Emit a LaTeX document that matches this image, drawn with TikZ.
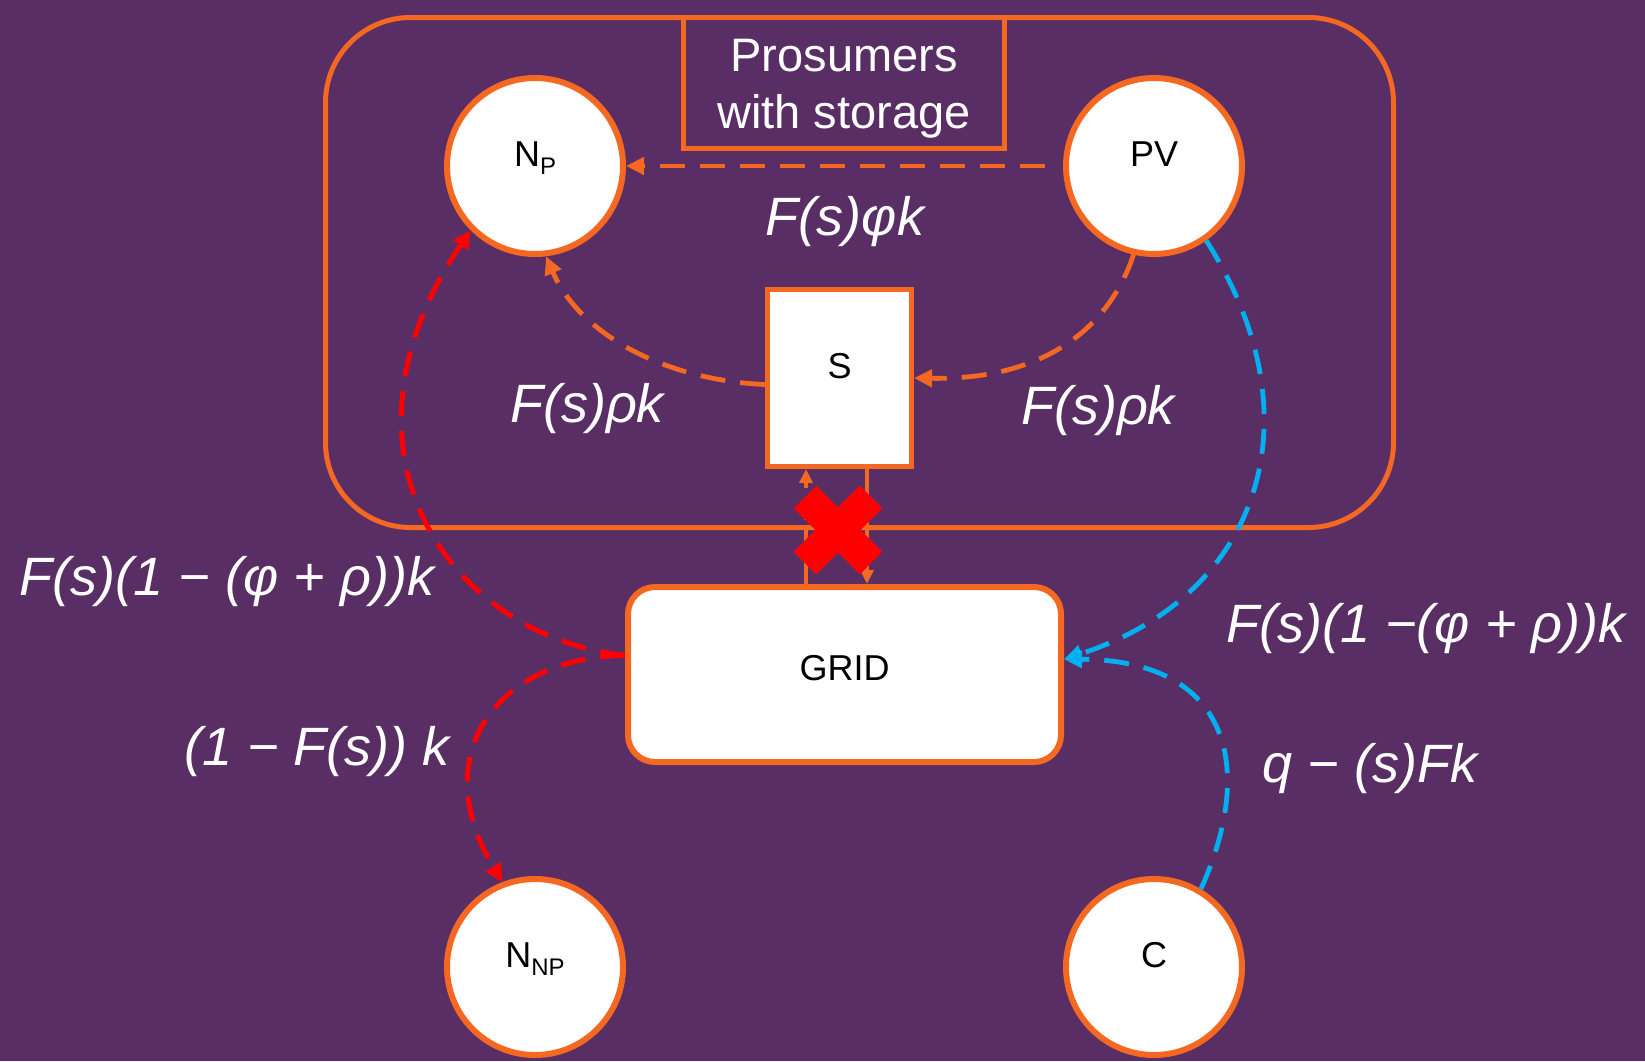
\documentclass[tikz,border=0pt]{standalone}
\usepackage{fontspec}
\setmainfont{Liberation Sans}
\usetikzlibrary{arrows.meta}
\definecolor{bgpurple}{RGB}{89,46,101}
\definecolor{lineorange}{RGB}{244,104,33}
\definecolor{flowblue}{RGB}{0,176,240}
\definecolor{flowred}{RGB}{255,0,0}
\newcommand\lowsub[1]{\raisebox{-8pt}{\fontsize{24}{24}\selectfont #1}}
\newcommand\dropline[1]{\raisebox{-6pt}[\height][\depth]{#1}}

\begin{document}
\begin{tikzpicture}[x=1pt,y=-1pt,
  agent/.style={circle, draw=lineorange, line width=6pt, fill=white,
    minimum size=176pt, inner sep=0pt, text height=0pt, text depth=0pt,
    font=\fontsize{36}{36}\selectfont, text=black},
  box/.style={draw=lineorange, fill=white, inner sep=0pt,
    font=\fontsize{36}{36}\selectfont, text=black},
  flow/.style={line width=4.8pt, dash pattern=on 25pt off 15pt,
    -{Triangle[length=18pt,width=17pt]}},
  smallflow/.style={lineorange, line width=4.5pt,
    -{Triangle[length=14pt,width=13pt]}},
  mathlbl/.style={text=white, font=\fontsize{54}{60}\selectfont\itshape,
    inner sep=0pt},
]
% canvas
\useasboundingbox (0,0) rectangle (1645,1061);
\fill[bgpurple] (0,0) rectangle (1645,1061);

% prosumer group frame and its title
\draw[lineorange, line width=5pt, rounded corners=85pt]
  (325.5,17.5) rectangle (1393.5,527.5);
\node[draw=lineorange, line width=5pt, fill=bgpurple, minimum width=321pt,
  minimum height=131pt, inner sep=0pt, align=center, text=white,
  font=\fontsize{47}{57}\selectfont] (title) at (844,83)
  {\dropline{Prosumers}\\\dropline{with storage}};

% actors
\node[agent] (np)  at (535,166)  {N\lowsub{P}};
\node[agent] (pv)  at (1154,166) {PV};
\node[agent] (nnp) at (535,967)  {N\lowsub{NP}};
\node[agent] (c)   at (1154,967) {C};

% storage and grid
\node[box, line width=5pt, minimum width=144pt, minimum height=177pt,
  text height=0pt, text depth=0pt] (s) at (839.5,378) {S};
\node[box, line width=6pt, rounded corners=27pt, minimum width=433pt,
  minimum height=175pt, text height=11pt, text depth=0pt]
  (grid) at (844.5,674.5) {GRID};

% flows inside the prosumer group
\draw[flow, lineorange, shorten <=18pt] (pv.west) -- (np.east);
\draw[flow, lineorange] (pv.257) .. controls (1104,342) and (1027,380) .. (s.east);
\draw[flow, lineorange] (s.185) .. controls (663,380) and (579,333) .. (np.277);

% blocked exchange between storage and grid
\draw[smallflow, dash pattern=on 22pt off 10pt]
  ([xshift=-33.5pt]s.south |- grid.north) -- ([xshift=-33.5pt]s.south);
\draw[smallflow]
  ([xshift=27.5pt]s.south) -- ([xshift=27.5pt]s.south |- grid.north);

% grid supply
\draw[flow, flowred, line width=5pt]
  (grid.175) .. controls (448,636) and (321,450) .. (np.225);
\draw[flow, flowred, line width=5pt]
  (grid.175) .. controls (498,657) and (425,754) .. (nnp.111);

% feed-in to the grid
\draw[flow, flowblue] (pv.305) .. controls (1320,418) and (1260,596) .. (grid.4);
\draw[flow, flowblue] (c.59) .. controls (1256,767) and (1230,660) .. (grid.4);

% cross over the storage-grid link
\draw[flowred, line width=32pt] (805,497) -- (871,563) (871,497) -- (805,563);

% flow labels
\node[mathlbl] (lphi)   at (845,222)  {F(s)φk};
\node[mathlbl] (lrhoL)  at (587,409)  {F(s)ρk};
\node[mathlbl] (lrhoR)  at (1098,411) {F(s)ρk};
\node[mathlbl] (lgridL) at (227,582)  {F(s)(1 − (φ + ρ))k};
\node[mathlbl] (lgridR) at (1426,629) {F(s)(1 −(φ + ρ))k};
\node[mathlbl] (lnnp)   at (317,752)  {(1 − F(s)) k};
\node[mathlbl] (lc)     at (1370,769) {q − (s)Fk};
\end{tikzpicture}
\end{document}
